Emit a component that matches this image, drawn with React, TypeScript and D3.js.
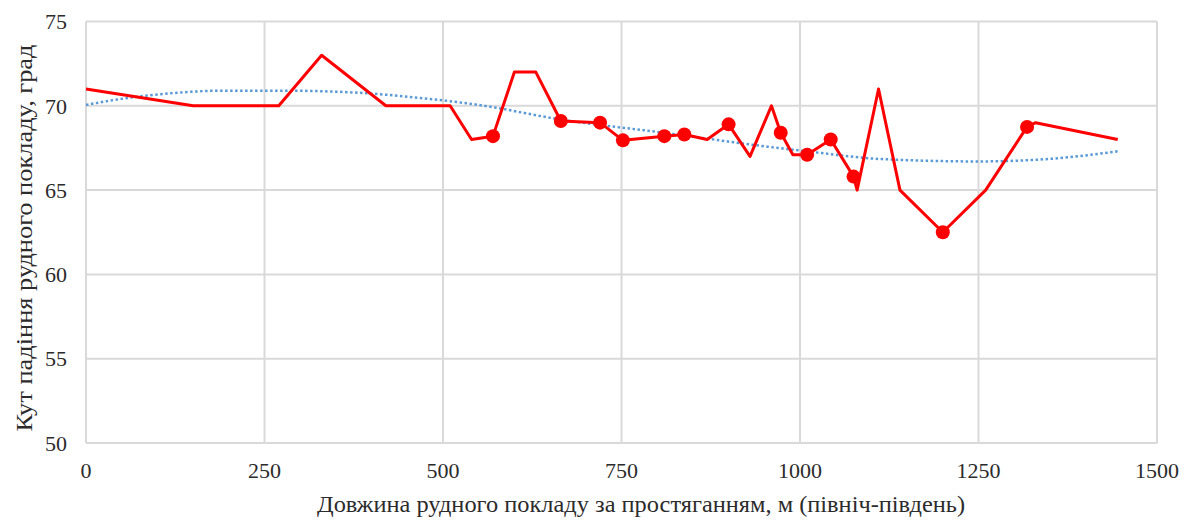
import { useEffect, useRef } from 'react';
import * as d3 from 'd3';

// Kut padinnia vs. distance along strike
const distance = [0, 150, 270, 330, 420, 510, 540, 570, 600, 630, 665, 720, 752, 810, 838, 870, 900, 930, 960, 973, 990, 1010, 1043, 1075, 1080, 1110, 1140, 1200, 1260, 1318, 1330, 1445];
const angle = [71, 70, 70, 73, 70, 70, 68, 68.2, 72, 72, 69.1, 69, 67.95, 68.2, 68.3, 68, 68.9, 67, 70, 68.4, 67.1, 67.1, 68, 65.8, 65, 71, 65, 62.5, 65, 68.75, 69, 68];
const hasMarker = [0, 0, 0, 0, 0, 0, 0, 1, 0, 0, 1, 1, 1, 1, 1, 0, 1, 0, 0, 1, 0, 1, 1, 1, 0, 0, 0, 1, 0, 1, 0, 0];

// dotted trend line
const trendX = [0, 40, 130, 190, 270, 370, 460, 550, 670, 810, 950, 1010, 1110, 1250, 1350, 1445];
const trendY = [70.05, 70.35, 70.78, 70.9, 70.9, 70.8, 70.5, 70.05, 69.15, 68.4, 67.6, 67.3, 66.85, 66.7, 66.85, 67.3];

const xTicks = [0, 250, 500, 750, 1000, 1250, 1500];
const yTicks = [50, 55, 60, 65, 70, 75];

const xTitle = 'Довжина рудного покладу за простяганням, м (північ-південь)';
const yTitle = 'Кут падіння рудного покладу, град';

export default function App() {
  const svgRef = useRef<SVGSVGElement>(null);

  useEffect(() => {
    if (!svgRef.current) return;
    const svg = d3.select(svgRef.current);
    svg.selectAll('*').remove();

    const width = 1192;
    const height = 522;
    const margin = { top: 21.5, right: 35, bottom: 79, left: 86 };
    const innerW = width - margin.left - margin.right;
    const innerH = height - margin.top - margin.bottom;

    const x = d3.scaleLinear().domain([0, 1500]).range([0, innerW]);
    const y = d3.scaleLinear().domain([50, 75]).range([innerH, 0]);

    const font = "'Liberation Serif', 'DejaVu Serif', serif";
    const textColor = '#2b2b2b';
    const fontSize = '22px';

    svg.append('rect').attr('width', width).attr('height', height).attr('fill', '#fff');

    const g = svg.append('g').attr('transform', `translate(${margin.left},${margin.top})`);

    // grid
    g.append('g')
      .selectAll('line')
      .data(yTicks)
      .enter().append('line')
      .attr('x1', 0).attr('x2', innerW)
      .attr('y1', d => y(d)).attr('y2', d => y(d))
      .attr('stroke', '#d9d9d9').attr('stroke-width', 2);

    g.append('g')
      .selectAll('line')
      .data(xTicks)
      .enter().append('line')
      .attr('y1', 0).attr('y2', innerH)
      .attr('x1', d => x(d)).attr('x2', d => x(d))
      .attr('stroke', '#d9d9d9').attr('stroke-width', 2);

    // tick labels
    g.append('g')
      .selectAll('text')
      .data(yTicks)
      .enter().append('text')
      .attr('x', -19)
      .attr('y', d => y(d))
      .attr('dy', '0.35em')
      .attr('text-anchor', 'end')
      .attr('font-family', font)
      .attr('font-size', fontSize)
      .attr('fill', textColor)
      .text(d => d);

    g.append('g')
      .selectAll('text')
      .data(xTicks)
      .enter().append('text')
      .attr('x', d => x(d))
      .attr('y', innerH + 27)
      .attr('dy', '0.35em')
      .attr('text-anchor', 'middle')
      .attr('font-family', font)
      .attr('font-size', fontSize)
      .attr('fill', textColor)
      .text(d => d);

    // axis titles
    svg.append('text')
      .attr('transform', `translate(32,238) rotate(-90)`)
      .attr('text-anchor', 'middle')
      .attr('font-family', font)
      .attr('font-size', '24px')
      .attr('textLength', 387)
      .attr('lengthAdjust', 'spacingAndGlyphs')
      .attr('fill', textColor)
      .text(yTitle);

    svg.append('text')
      .attr('x', 641)
      .attr('y', 512)
      .attr('text-anchor', 'middle')
      .attr('font-family', font)
      .attr('font-size', '24px')
      .attr('textLength', 648)
      .attr('lengthAdjust', 'spacingAndGlyphs')
      .attr('fill', textColor)
      .text(xTitle);

    // trend line
    const trend = trendX.map((d, i) => ({ x: d, y: trendY[i] }));
    g.append('path')
      .datum(trend)
      .attr('fill', 'none')
      .attr('stroke', '#5b9bd5')
      .attr('stroke-width', 2.5)
      .attr('stroke-dasharray', '2.5,2.5')
      .attr('d', d3.line<{ x: number; y: number }>()
        .x(d => x(d.x)).y(d => y(d.y))
        .curve(d3.curveMonotoneX));

    // main series
    const pts = distance.map((d, i) => ({ x: d, y: angle[i], m: hasMarker[i] }));
    g.append('path')
      .datum(pts)
      .attr('fill', 'none')
      .attr('stroke', '#ff0000')
      .attr('stroke-width', 3)
      .attr('stroke-linejoin', 'round')
      .attr('d', d3.line<{ x: number; y: number }>().x(d => x(d.x)).y(d => y(d.y)));

    g.append('g')
      .selectAll('circle')
      .data(pts.filter(d => d.m))
      .enter().append('circle')
      .attr('cx', d => x(d.x))
      .attr('cy', d => y(d.y))
      .attr('r', 7)
      .attr('fill', '#ff0000');
  }, []);

  return (
    <svg
      ref={svgRef}
      width={1192}
      height={522}
      style={{ position: 'absolute', left: 0, top: 0, display: 'block' }}
    />
  );
}
